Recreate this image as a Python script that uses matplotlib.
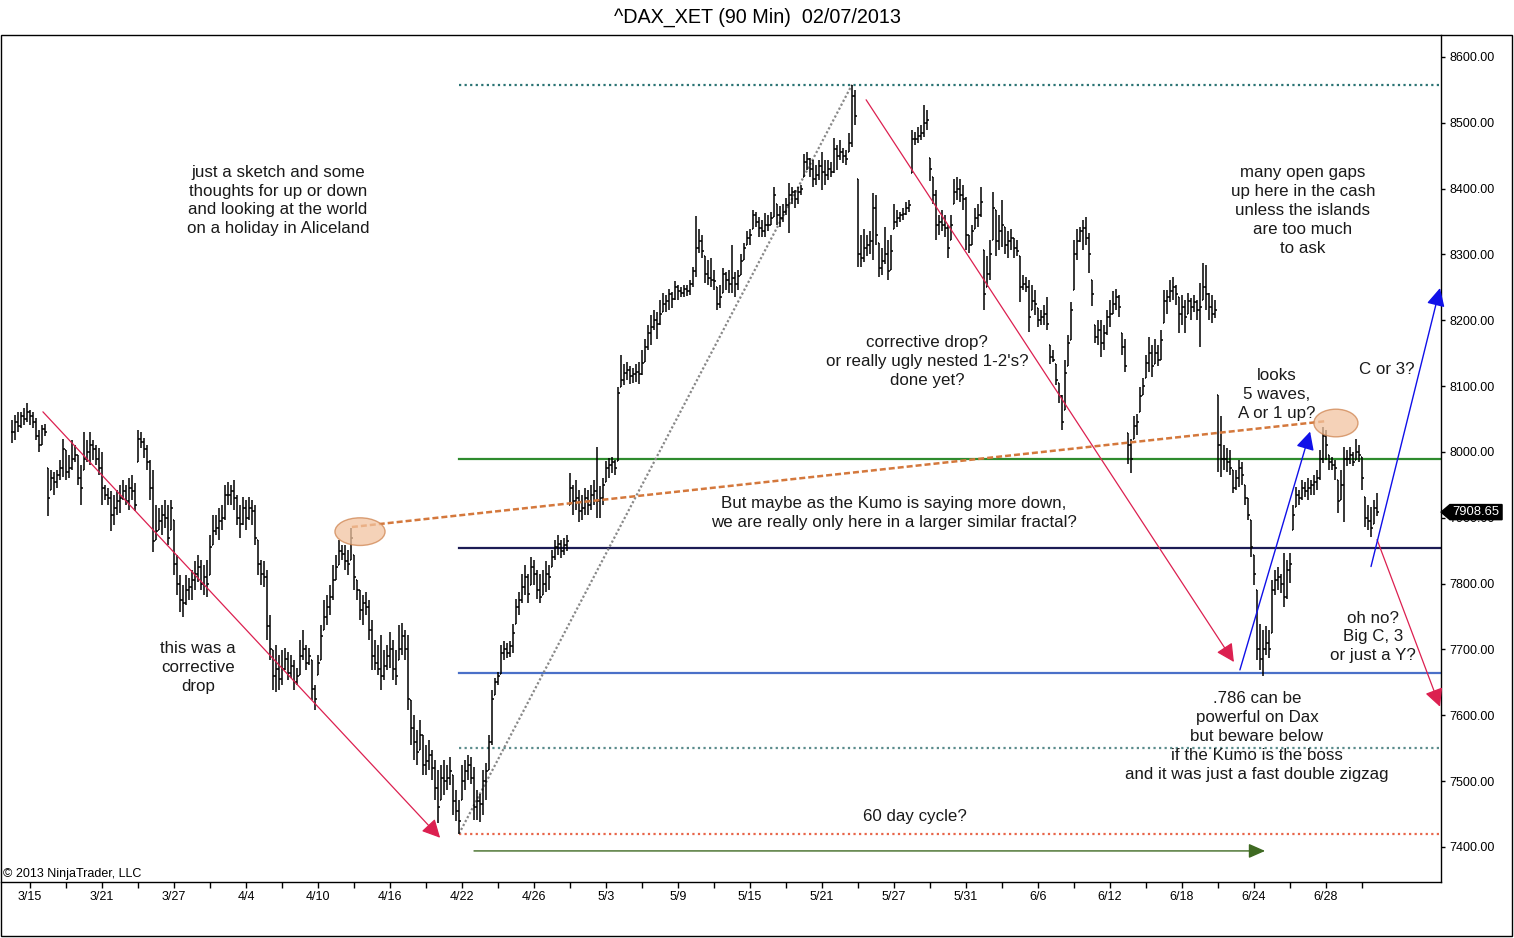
import matplotlib
matplotlib.use("Agg")
import numpy as np
import matplotlib.pyplot as plt
import matplotlib.transforms as mtransforms
from matplotlib.collections import LineCollection
from matplotlib.patches import Ellipse, Polygon, Rectangle

plt.rcParams['font.family'] = ['Liberation Sans', 'DejaVu Sans']

# trading days shown (6 bars of 90 min per day)
days = ['3/14', '3/15', '3/18', '3/19', '3/20', '3/21', '3/22', '3/25', '3/26', '3/27',
        '3/28', '4/2', '4/3', '4/4', '4/5', '4/8', '4/9', '4/10', '4/11', '4/12',
        '4/15', '4/16', '4/17', '4/18', '4/19', '4/22', '4/23', '4/24', '4/25', '4/26',
        '4/29', '4/30', '5/2', '5/3', '5/6', '5/7', '5/8', '5/9', '5/10', '5/13',
        '5/14', '5/15', '5/16', '5/17', '5/20', '5/21', '5/22', '5/23', '5/24', '5/27',
        '5/28', '5/29', '5/30', '5/31', '6/3', '6/4', '6/5', '6/6', '6/7', '6/10',
        '6/11', '6/12', '6/13', '6/14', '6/17', '6/18', '6/19', '6/20', '6/21', '6/24',
        '6/25', '6/26', '6/27', '6/28', '7/1', '7/2']

highs = [
    8049, 8056, 8061, 8061, 8067, 8075,  # 3/14
    8064, 8061, 8052, 8033, 8041, 8043,  # 3/15
    7976, 7973, 7970, 7973, 7988, 8020,  # 3/18
    8003, 7995, 8018, 8011, 7995, 7980,  # 3/19
    8030, 8018, 8030, 8018, 8011, 8006,  # 3/20
    8000, 7950, 7945, 7940, 7935, 7942,  # 3/21
    7950, 7957, 7950, 7961, 7965, 7953,  # 3/22
    8033, 8030, 8021, 8011, 7988, 7973,  # 3/25
    7919, 7915, 7919, 7927, 7919, 7927,  # 3/26
    7897, 7844, 7813, 7798, 7813, 7808,  # 3/27
    7821, 7834, 7844, 7836, 7828, 7836,  # 3/28
    7874, 7904, 7904, 7915, 7919, 7950,  # 4/2
    7955, 7950, 7957, 7935, 7919, 7931,  # 4/3
    7927, 7931, 7927, 7919, 7866, 7836,  # 4/4
    7834, 7821, 7752, 7699, 7707, 7692,  # 4/5
    7699, 7702, 7696, 7692, 7684, 7672,  # 4/8
    7714, 7730, 7707, 7702, 7684, 7646,  # 4/9
    7692, 7737, 7775, 7783, 7798, 7828,  # 4/10
    7844, 7866, 7859, 7859, 7851, 7885,  # 4/11
    7844, 7806, 7790, 7783, 7787, 7775,  # 4/12
    7745, 7714, 7707, 7722, 7699, 7707,  # 4/15
    7726, 7714, 7699, 7737, 7740, 7730,  # 4/16
    7722, 7623, 7600, 7578, 7593, 7570,  # 4/17
    7555, 7563, 7547, 7532, 7517, 7525,  # 4/18
    7532, 7525, 7536, 7510, 7487, 7471,  # 4/19
    7525, 7532, 7540, 7536, 7522, 7487,  # 4/22
    7480, 7517, 7528, 7570, 7639, 7657,  # 4/23
    7666, 7707, 7713, 7710, 7713, 7738,  # 4/24
    7776, 7788, 7814, 7829, 7814, 7841,  # 4/25
    7836, 7821, 7814, 7821, 7835, 7829,  # 4/26
    7851, 7867, 7874, 7867, 7870, 7874,  # 4/29
    7968, 7950, 7958, 7943, 7935, 7946,  # 4/30
    7943, 7950, 7958, 8008, 7949, 7961,  # 5/2
    7987, 7991, 7993, 7988, 8098, 8148,  # 5/3
    8133, 8136, 8130, 8128, 8133, 8136,  # 5/6
    8155, 8172, 8193, 8208, 8216, 8213,  # 5/7
    8231, 8242, 8239, 8247, 8243, 8259,  # 5/8
    8254, 8251, 8254, 8253, 8262, 8281,  # 5/9
    8359, 8338, 8330, 8297, 8292, 8295,  # 5/10
    8277, 8251, 8254, 8280, 8274, 8277,  # 5/13
    8315, 8274, 8277, 8300, 8318, 8335,  # 5/14
    8338, 8368, 8365, 8357, 8353, 8363,  # 5/15
    8360, 8365, 8403, 8376, 8373, 8376,  # 5/16
    8386, 8409, 8403, 8398, 8403, 8406,  # 5/17
    8452, 8456, 8447, 8444, 8436, 8444,  # 5/20
    8455, 8444, 8444, 8441, 8477, 8467,  # 5/21
    8474, 8462, 8459, 8485, 8558, 8550,  # 5/22
    8414, 8330, 8338, 8330, 8335, 8394,  # 5/23
    8391, 8318, 8310, 8341, 8322, 8330,  # 5/24
    8376, 8368, 8365, 8371, 8379, 8383,  # 5/27
    8489, 8486, 8493, 8497, 8527, 8520,  # 5/28
    8447, 8417, 8398, 8360, 8368, 8360,  # 5/29
    8345, 8360, 8414, 8417, 8414, 8406,  # 5/30
    8388, 8330, 8345, 8371, 8376, 8403,  # 5/31
    8307, 8297, 8322, 8395, 8368, 8360,  # 6/3
    8383, 8341, 8335, 8338, 8325, 8322,  # 6/4
    8297, 8269, 8266, 8262, 8254, 8246,  # 6/5
    8219, 8216, 8224, 8236, 8163, 8155,  # 6/6
    8133, 8105, 8087, 8140, 8178, 8228,  # 6/7
    8322, 8338, 8341, 8353, 8357, 8333,  # 6/10
    8262, 8193, 8201, 8201, 8193, 8216,  # 6/11
    8231, 8244, 8247, 8239, 8181, 8171,  # 6/12
    8029, 8019, 8054, 8057, 8099, 8113,  # 6/13
    8147, 8175, 8163, 8171, 8163, 8186,  # 6/14
    8246, 8246, 8262, 8266, 8254, 8236,  # 6/17
    8239, 8231, 8242, 8234, 8239, 8231,  # 6/18
    8257, 8287, 8284, 8242, 8239, 8231,  # 6/19
    8087, 8054, 8011, 8006, 8003, 7973,  # 6/20
    7973, 7988, 7985, 7950, 7930, 7897,  # 6/21
    7844, 7790, 7738, 7730, 7735, 7730,  # 6/24
    7806, 7821, 7826, 7814, 7847, 7836,  # 6/25
    7847, 7920, 7947, 7943, 7958, 7955,  # 6/26
    7961, 7958, 7965, 7973, 8003, 8038,  # 6/27
    8034, 7996, 7993, 7988, 7958, 7973,  # 6/28
    8008, 8003, 8008, 8000, 8019, 8011,  # 7/1
    7993, 7932, 7920, 7917, 7927, 7938,  # 7/2
]

lows = [
    8014, 8018, 8031, 8037, 8041, 8046,  # 3/14
    8041, 8037, 8018, 8000, 8011, 8024,  # 3/15
    7902, 7942, 7935, 7946, 7957, 7962,  # 3/18
    7957, 7961, 7973, 7985, 7950, 7919,  # 3/19
    7973, 7985, 7980, 7988, 7980, 7965,  # 3/20
    7920, 7927, 7920, 7880, 7889, 7904,  # 3/21
    7907, 7927, 7919, 7912, 7927, 7910,  # 3/22
    7985, 8006, 7991, 7973, 7927, 7848,  # 3/25
    7866, 7882, 7874, 7885, 7859, 7882,  # 3/26
    7813, 7783, 7757, 7750, 7768, 7775,  # 3/27
    7775, 7790, 7803, 7790, 7783, 7780,  # 3/28
    7813, 7859, 7874, 7866, 7882, 7897,  # 4/2
    7919, 7919, 7912, 7889, 7870, 7889,  # 4/3
    7882, 7897, 7889, 7859, 7813, 7798,  # 4/4
    7795, 7714, 7684, 7638, 7635, 7638,  # 4/5
    7646, 7669, 7654, 7657, 7638, 7646,  # 4/8
    7661, 7684, 7669, 7677, 7623, 7608,  # 4/9
    7661, 7684, 7730, 7737, 7752, 7775,  # 4/10
    7806, 7828, 7836, 7821, 7813, 7836,  # 4/11
    7790, 7775, 7745, 7737, 7752, 7714,  # 4/12
    7669, 7669, 7661, 7638, 7654, 7669,  # 4/15
    7672, 7654, 7646, 7684, 7692, 7684,  # 4/16
    7608, 7555, 7532, 7525, 7547, 7510,  # 4/17
    7510, 7517, 7502, 7471, 7437, 7471,  # 4/18
    7479, 7487, 7494, 7449, 7439, 7420,  # 4/19
    7472, 7487, 7502, 7495, 7441, 7441,  # 4/22
    7438, 7449, 7472, 7517, 7555, 7631,  # 4/23
    7646, 7662, 7684, 7687, 7689, 7695,  # 4/24
    7738, 7753, 7770, 7783, 7770, 7798,  # 4/25
    7798, 7776, 7770, 7783, 7788, 7791,  # 4/26
    7826, 7836, 7844, 7839, 7844, 7849,  # 4/29
    7920, 7905, 7912, 7894, 7897, 7905,  # 4/30
    7905, 7912, 7920, 7900, 7900, 7920,  # 5/2
    7955, 7961, 7968, 7965, 7987, 8098,  # 5/3
    8102, 8110, 8104, 8105, 8107, 8104,  # 5/6
    8117, 8136, 8155, 8163, 8186, 8171,  # 5/7
    8193, 8212, 8213, 8216, 8219, 8231,  # 5/8
    8231, 8236, 8236, 8237, 8239, 8251,  # 5/9
    8266, 8303, 8295, 8257, 8254, 8251,  # 5/10
    8246, 8216, 8219, 8242, 8246, 8242,  # 5/13
    8242, 8236, 8246, 8269, 8292, 8315,  # 5/14
    8315, 8338, 8341, 8327, 8327, 8327,  # 5/15
    8335, 8345, 8357, 8345, 8342, 8350,  # 5/16
    8360, 8333, 8376, 8371, 8376, 8391,  # 5/17
    8417, 8429, 8418, 8403, 8406, 8413,  # 5/20
    8398, 8406, 8413, 8417, 8424, 8429,  # 5/21
    8444, 8439, 8436, 8456, 8464, 8497,  # 5/22
    8281, 8281, 8289, 8297, 8300, 8292,  # 5/23
    8315, 8266, 8269, 8285, 8262, 8277,  # 5/24
    8338, 8342, 8350, 8353, 8360, 8365,  # 5/27
    8424, 8467, 8470, 8474, 8479, 8489,  # 5/28
    8411, 8376, 8322, 8330, 8335, 8327,  # 5/29
    8295, 8322, 8376, 8383, 8379, 8368,  # 5/30
    8307, 8303, 8315, 8338, 8341, 8357,  # 5/31
    8216, 8251, 8262, 8322, 8297, 8307,  # 6/3
    8312, 8300, 8295, 8307, 8295, 8298,  # 6/4
    8228, 8246, 8243, 8183, 8216, 8208,  # 6/5
    8190, 8193, 8193, 8186, 8133, 8136,  # 6/6
    8102, 8075, 8034, 8064, 8130, 8170,  # 6/7
    8246, 8292, 8319, 8307, 8315, 8272,  # 6/10
    8221, 8166, 8163, 8145, 8155, 8178,  # 6/11
    8190, 8209, 8216, 8205, 8148, 8122,  # 6/12
    7981, 7968, 8019, 8026, 8060, 8087,  # 6/13
    8113, 8122, 8114, 8133, 8130, 8140,  # 6/14
    8196, 8209, 8228, 8231, 8224, 8181,  # 6/17
    8193, 8181, 8209, 8201, 8213, 8201,  # 6/18
    8160, 8231, 8216, 8201, 8196, 8204,  # 6/19
    7969, 7962, 7973, 7969, 7965, 7938,  # 6/20
    7943, 7947, 7950, 7920, 7897, 7841,  # 6/21
    7798, 7684, 7669, 7659, 7692, 7687,  # 6/24
    7725, 7783, 7791, 7786, 7765, 7776,  # 6/25
    7801, 7882, 7917, 7920, 7927, 7931,  # 6/26
    7927, 7935, 7935, 7943, 7958, 7984,  # 6/27
    7988, 7973, 7973, 7958, 7908, 7927,  # 6/28
    7893, 7978, 7981, 7978, 7988, 7985,  # 7/1
    7943, 7886, 7882, 7871, 7890, 7902,  # 7/2
]

closes = [
    8030, 8045, 8040, 8055, 8050, 8060,  # 3/14
    8055, 8045, 8025, 8010, 8035, 8030,  # 3/15
    7930, 7960, 7955, 7965, 7975, 8005,  # 3/18
    7970, 7975, 7990, 7995, 7960, 7945,  # 3/19
    7990, 8000, 8010, 8005, 7990, 7975,  # 3/20
    7945, 7935, 7930, 7905, 7915, 7925,  # 3/21
    7930, 7940, 7925, 7945, 7940, 7920,  # 3/22
    8020, 8015, 8005, 7985, 7945, 7865,  # 3/25
    7880, 7895, 7905, 7900, 7870, 7915,  # 3/26
    7830, 7800, 7775, 7770, 7790, 7795,  # 3/27
    7805, 7815, 7825, 7800, 7810, 7800,  # 3/28
    7855, 7880, 7885, 7895, 7900, 7935,  # 4/2
    7935, 7940, 7930, 7900, 7890, 7915,  # 4/3
    7900, 7915, 7910, 7870, 7830, 7815,  # 4/4
    7810, 7735, 7700, 7660, 7670, 7655,  # 4/5
    7670, 7685, 7665, 7675, 7650, 7660,  # 4/8
    7690, 7700, 7680, 7690, 7640, 7625,  # 4/9
    7680, 7720, 7750, 7765, 7780, 7805,  # 4/10
    7825, 7850, 7845, 7835, 7830, 7870,  # 4/11
    7810, 7790, 7760, 7770, 7765, 7730,  # 4/12
    7690, 7680, 7670, 7660, 7675, 7690,  # 4/15
    7700, 7670, 7660, 7700, 7720, 7700,  # 4/16
    7625, 7580, 7560, 7545, 7570, 7525,  # 4/17
    7530, 7540, 7520, 7490, 7460, 7505,  # 4/18
    7500, 7505, 7515, 7470, 7455, 7440,  # 4/19
    7500, 7515, 7525, 7505, 7460, 7470,  # 4/22
    7465, 7500, 7515, 7560, 7625, 7650,  # 4/23
    7660, 7695, 7700, 7695, 7705, 7725,  # 4/24
    7765, 7775, 7795, 7810, 7785, 7825,  # 4/25
    7815, 7790, 7780, 7800, 7815, 7810,  # 4/26
    7840, 7855, 7860, 7850, 7858, 7865,  # 4/29
    7945, 7925, 7930, 7910, 7915, 7930,  # 4/30
    7920, 7935, 7940, 7925, 7930, 7950,  # 5/2
    7975, 7980, 7985, 7975, 8090, 8110,  # 5/3
    8120, 8125, 8115, 8118, 8122, 8118,  # 5/6
    8135, 8160, 8180, 8190, 8200, 8195,  # 5/7
    8210, 8225, 8230, 8240, 8232, 8250,  # 5/8
    8245, 8242, 8248, 8245, 8255, 8275,  # 5/9
    8310, 8320, 8305, 8270, 8265, 8262,  # 5/10
    8260, 8225, 8235, 8270, 8262, 8255,  # 5/13
    8265, 8255, 8268, 8290, 8310, 8325,  # 5/14
    8330, 8360, 8350, 8340, 8335, 8345,  # 5/15
    8345, 8355, 8390, 8360, 8355, 8365,  # 5/16
    8375, 8390, 8395, 8385, 8395, 8400,  # 5/17
    8440, 8445, 8430, 8415, 8420, 8435,  # 5/20
    8425, 8420, 8430, 8425, 8460, 8450,  # 5/21
    8455, 8450, 8445, 8470, 8540, 8510,  # 5/22
    8300, 8295, 8310, 8315, 8320, 8370,  # 5/23
    8330, 8280, 8290, 8300, 8275, 8305,  # 5/24
    8350, 8355, 8360, 8362, 8370, 8375,  # 5/27
    8475, 8475, 8480, 8485, 8500, 8505,  # 5/28
    8430, 8390, 8345, 8350, 8345, 8340,  # 5/29
    8310, 8345, 8395, 8400, 8390, 8385,  # 5/30
    8330, 8315, 8335, 8355, 8360, 8380,  # 5/31
    8240, 8270, 8300, 8370, 8320, 8335,  # 6/3
    8345, 8315, 8320, 8325, 8310, 8305,  # 6/4
    8250, 8255, 8250, 8205, 8230, 8225,  # 6/5
    8200, 8205, 8210, 8195, 8145, 8140,  # 6/6
    8110, 8085, 8045, 8120, 8165, 8215,  # 6/7
    8300, 8320, 8335, 8340, 8325, 8300,  # 6/10
    8240, 8175, 8185, 8165, 8180, 8205,  # 6/11
    8210, 8225, 8235, 8220, 8160, 8130,  # 6/12
    8010, 7990, 8040, 8045, 8085, 8100,  # 6/13
    8135, 8150, 8130, 8150, 8140, 8170,  # 6/14
    8230, 8235, 8245, 8250, 8240, 8210,  # 6/17
    8220, 8205, 8230, 8220, 8228, 8215,  # 6/18
    8220, 8250, 8240, 8220, 8210, 8215,  # 6/19
    8010, 7990, 7990, 7985, 7975, 7945,  # 6/20
    7960, 7975, 7965, 7930, 7905, 7855,  # 6/21
    7815, 7700, 7685, 7700, 7710, 7700,  # 6/24
    7790, 7805, 7810, 7800, 7780, 7820,  # 6/25
    7830, 7905, 7935, 7930, 7945, 7940,  # 6/26
    7945, 7950, 7955, 7960, 7990, 8025,  # 6/27
    8010, 7985, 7980, 7975, 7925, 7950,  # 6/28
    7990, 7990, 7995, 7985, 8000, 7995,  # 7/1
    7960, 7900, 7895, 7885, 7915, 7908.65,  # 7/2
]

bars_per_day = 6
last_price = closes[-1]

# retracement levels between the April low and the May high
fib_ratios = [0.0, 0.5, 0.618, 0.786, 0.886, 1.0]
fib_colors = ['#2b7474', '#2e8b2e', '#1c1c55', '#4a70c8', '#5b8c8c', '#e8664a']
fib_styles = [(0, (1, 1.5)), '-', '-', '-', (0, (1, 1.5)), (0, (1, 1.5))]

# hand drawn sketch lines: (start bar, start price) -> (end bar, end price)
red_arrows = [((10.3, 8061), (142.7, 7414)),
              ((284.7, 8535), (407.3, 7681)),
              ((455.0, 7867), (476.0, 7613))]
blue_arrows = [((409.3, 7669), (432.7, 8031)),
               ((453.0, 7826), (476.0, 8249))]
cycle_arrow = ((154.0, 7394), (417.7, 7394))
gap_line = ((113.3, 7886), (438.3, 8047))
circles = [(116.0, 7879, 16.7, 42), (441.3, 8044, 14.7, 42)]

notes = [
    (88.7, 8382, 'just a sketch and some\nthoughts for up or down\nand looking at the world\non a holiday in Aliceland'),
    (62.0, 7672, 'this was a\ncorrective\ndrop'),
    (305.0, 8138, "corrective drop?\nor really ugly nested 1-2's?\ndone yet?"),
    (294.0, 7907, 'But maybe as the Kumo is saying more down,\nwe are really only here in a larger similar fractal?'),
    (301.0, 7447, '60 day cycle?'),
    (430.3, 8367, 'many open gaps\nup here in the cash\nunless the islands\nare too much\nto ask'),
    (421.7, 8088, 'looks\n5 waves,\nA or 1 up?'),
    (458.3, 8125, 'C or 3?'),
    (453.7, 7719, 'oh no?\nBig C, 3\nor just a Y?'),
    (415.0, 7568, '.786 can be\npowerful on Dax\nbut beware below\nif the Kumo is the boss\nand it was just a fast double zigzag'),
]

W, H = 1514, 938
fig = plt.figure(figsize=(W / 100, H / 100), dpi=100)
fig.patch.set_facecolor('white')
ax = fig.add_axes([1 / W, 56 / H, 1440 / W, 847 / H])

highs = np.array(highs, dtype=float)
lows = np.array(lows, dtype=float)
closes = np.array(closes, dtype=float)
n = len(closes)
xs = np.arange(n)
opens = np.clip(np.r_[closes[0], closes[:-1]], lows, highs)

# OHLC bars
segs = []
for x, o, h, l, c in zip(xs, opens, highs, lows, closes):
    segs.append([(x, l), (x, h)])
    segs.append([(x - 0.5, o), (x, o)])
    segs.append([(x, c), (x + 0.5, c)])
ax.add_collection(LineCollection(segs, colors='black', linewidths=1.1, zorder=3))

i_low = int(np.argmin(lows))
i_high = int(np.argmax(highs))
swing_low = lows[i_low]
swing_high = highs[i_high]

x_right = 476.33
for r, col, ls in zip(fib_ratios, fib_colors, fib_styles):
    lvl = swing_high - r * (swing_high - swing_low)
    ax.plot([i_low, x_right], [lvl, lvl], color=col, ls=ls, lw=1.6, zorder=2)

# dotted swing line low -> high
ax.plot([i_low, i_high], [swing_low, swing_high], color='#888888',
        ls=(0, (1, 1)), lw=1.6, zorder=2)

# orange gap line and circles
ax.plot([gap_line[0][0], gap_line[1][0]], [gap_line[0][1], gap_line[1][1]],
        color='#d4783c', lw=1.8, dashes=(2.4, 1.2), zorder=4)
for cx, cy, w, h in circles:
    ax.add_patch(Ellipse((cx, cy), w, h, facecolor='#f2c4a0', edgecolor='#cf8450',
                         alpha=0.75, lw=1, zorder=5))


def arrow(start, end, color, lw=1.0, hl=0.55, hw=0.28):
    ax.annotate('', xy=end, xytext=start,
                arrowprops=dict(arrowstyle=f'-|>,head_length={hl},head_width={hw}',
                                color=color, lw=lw, mutation_scale=20,
                                shrinkA=0, shrinkB=0), zorder=6)


for s, e in red_arrows:
    arrow(s, e, '#dc2050', lw=0.9)
for s, e in blue_arrows:
    arrow(s, e, '#1010e8', lw=1.0)
arrow(cycle_arrow[0], cycle_arrow[1], '#3f6a22', lw=1.0, hl=0.5, hw=0.22)

for x, y, t in notes:
    ax.text(x, y, t, ha='center', va='center', fontsize=12.2, color='#1a1a1a',
            linespacing=1.33, zorder=7)

ax.set_xlim(-3.667, x_right)
ax.set_ylim(7346.8, 8633.4)

# axes look
for side in ('top', 'left'):
    ax.spines[side].set_visible(False)
ax.spines['bottom'].set_linewidth(1.0)
ax.spines['right'].set_linewidth(1.0)
ax.yaxis.tick_right()
ax.set_yticks(np.arange(7400, 8601, 100))
ax.set_yticklabels([f'{v:.2f}' for v in np.arange(7400, 8601, 100)])
ax.tick_params(axis='y', direction='out', length=3, width=1, pad=3,
               labelsize=9, colors='black')

tick_days = list(range(1, len(days), 2))
ax.set_xticks([d * bars_per_day for d in tick_days])
ax.set_xticklabels([days[d] if (d - 1) % 4 == 0 else '' for d in tick_days])
ax.tick_params(axis='x', direction='out', length=4, width=1, pad=2.5,
               labelsize=9, colors='black')

# last price tag, drawn over the 7900 label as in the platform
tr = mtransforms.blended_transform_factory(ax.transAxes, ax.transData)
hh = 11.5
tag = Polygon([(1.0, last_price), (1.0062, last_price + hh), (1.0424, last_price + hh),
               (1.0424, last_price - hh), (1.0062, last_price - hh)],
              closed=True, transform=tr, facecolor='black', edgecolor='black',
              clip_on=False, zorder=10)
ax.add_patch(tag)
ax.text(1.0245, last_price + 0.5, f'{last_price:.2f}', transform=tr, color='white',
        fontsize=9.4, ha='center', va='center', clip_on=False, zorder=11)

# frame and header
fig.patches.append(Rectangle((0.5 / W, 2 / H), 1511.5 / W, (H - 37) / H,
                             transform=fig.transFigure, fill=False,
                             edgecolor='black', lw=1.0))
fig.text(0.5, 1 - 17 / H, '^DAX_XET (90 Min)  02/07/2013', ha='center', va='center',
         fontsize=14.2, color='black')
fig.text(3 / W, 1 - 874 / H, '\u00a9 2013 NinjaTrader, LLC', ha='left', va='center',
         fontsize=9, color='black')

fig.savefig('out.png', dpi=100, facecolor='white')
